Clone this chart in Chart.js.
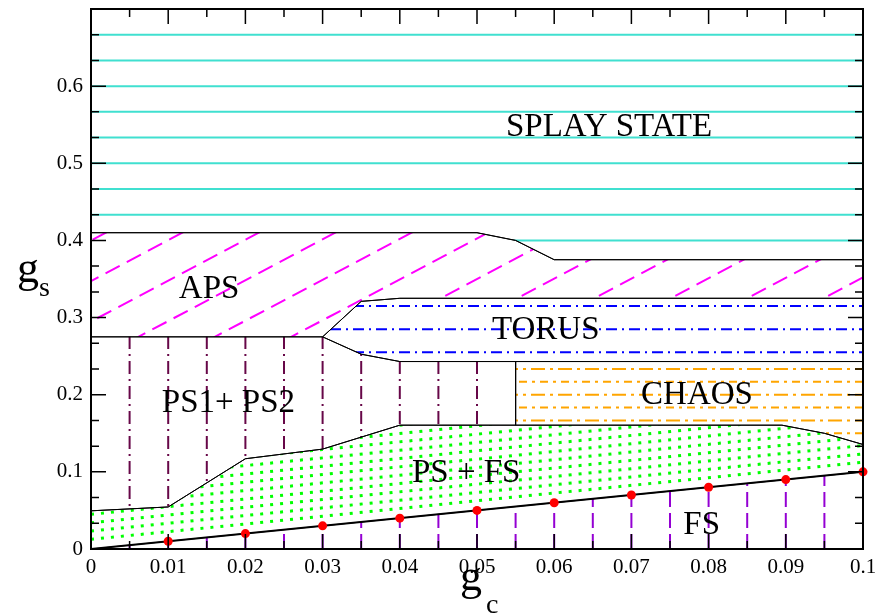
<!DOCTYPE html>
<html>
<head>
<meta charset="utf-8">
<script src="https://cdn.jsdelivr.net/npm/chart.js@4.4.1/dist/chart.umd.min.js"></script>
<style>
  html, body { margin: 0; padding: 0; background: #fff; }
  canvas { display: block; }
</style>
</head>
<body>
<canvas id="phase" width="875" height="616"></canvas>
<script>
// axis ticks
const xTickLabels = [0, 0.01, 0.02, 0.03, 0.04, 0.05, 0.06, 0.07, 0.08, 0.09, 0.1];
const xMinorTicks = [0.005, 0.015, 0.025, 0.035, 0.045, 0.055, 0.065, 0.075, 0.085, 0.095];
const yTickLabels = [0, 0.1, 0.2, 0.3, 0.4, 0.5, 0.6];
const yMajorTicks = [0, 0.1, 0.2, 0.3, 0.4, 0.5, 0.6, 0.7];
const yMinorTicks = [0.0333, 0.0667, 0.1333, 0.1667, 0.2333, 0.2667, 0.3333, 0.3667,
                     0.4333, 0.4667, 0.5333, 0.5667, 0.6333, 0.6667];

// region boundaries (closed polygons, gc / gs)
const splayX = [0, 0.05, 0.055, 0.06, 0.1, 0.1, 0, 0];
const splayY = [0.41, 0.41, 0.40, 0.375, 0.375, 0.7, 0.7, 0.41];
const apsX = [0, 0.05, 0.055, 0.06, 0.1, 0.1, 0.04, 0.035, 0.03, 0, 0];
const apsY = [0.41, 0.41, 0.40, 0.375, 0.375, 0.325, 0.325, 0.321, 0.275, 0.275, 0.41];
const torusX = [0.03, 0.035, 0.04, 0.1, 0.1, 0.04, 0.035, 0.03];
const torusY = [0.275, 0.321, 0.325, 0.325, 0.243, 0.243, 0.2525, 0.275];
const ps12X = [0, 0.03, 0.035, 0.04, 0.055, 0.055, 0.04, 0.03, 0.02, 0.01, 0, 0];
const ps12Y = [0.275, 0.275, 0.2525, 0.243, 0.243, 0.1605, 0.1605, 0.1295, 0.117, 0.0545, 0.0495, 0.275];
const chaosX = [0.055, 0.1, 0.1, 0.095, 0.0895, 0.055, 0.055];
const chaosY = [0.243, 0.243, 0.1355, 0.15, 0.1605, 0.1605, 0.243];
const psfsX = [0, 0.01, 0.02, 0.03, 0.04, 0.0895, 0.095, 0.1, 0.1, 0, 0];
const psfsY = [0.0495, 0.0545, 0.117, 0.1295, 0.1605, 0.1605, 0.15, 0.1355, 0.1, 0, 0.0495];
const fsX = [0, 0.1, 0.1, 0];
const fsY = [0, 0.1, 0, 0];

// FS boundary line and the computed points on it
const fsLineX = [0, 0.1];
const fsLineY = [0, 0.1];
const pointsX = [0.01, 0.02, 0.03, 0.04, 0.05, 0.06, 0.07, 0.08, 0.09, 0.1];
const pointsY = [0.01, 0.02, 0.03, 0.04, 0.05, 0.06, 0.07, 0.08, 0.09, 0.1];

// hatching
const splayLevels = [0.4, 0.4333, 0.4667, 0.5, 0.5333, 0.5667, 0.6, 0.6333, 0.6667];
const apsHatchLowX = [-0.0245, -0.0146, -0.0047, 0.0052, 0.0151, 0.025, 0.0349, 0.0448, 0.0548, 0.0647, 0.0746, 0.0845];
const apsHatchHighX = [0.0038, 0.0137, 0.0236, 0.0335, 0.0434, 0.0533, 0.0632, 0.0731, 0.0831, 0.093, 0.1029, 0.1128];
const apsHatchLowY = 0.27, apsHatchHighY = 0.42;
const ps12HatchX = [0.005, 0.01, 0.015, 0.02, 0.025, 0.03, 0.035, 0.04, 0.045, 0.05];
const torusLevels = [0.255, 0.285, 0.315];
const chaosLevels = [0.15, 0.1667, 0.1833, 0.2, 0.2167, 0.2333];
const psfsOffsets = [0.0125, 0.0233, 0.0341, 0.0449, 0.0557, 0.0665, 0.0773, 0.0881, 0.0989, 0.1097, 0.1205];
const fsHatchX = [0.005, 0.01, 0.015, 0.02, 0.025, 0.03, 0.035, 0.04, 0.045, 0.05,
                  0.055, 0.06, 0.065, 0.07, 0.075, 0.08, 0.085, 0.09, 0.095];

// region names
const regionNames = ['SPLAY STATE', 'APS', 'TORUS', 'PS1+ PS2', 'CHAOS', 'PS + FS', 'FS'];
const regionLabelX = [0.0671, 0.0153, 0.0589, 0.0178, 0.0785, 0.0486, 0.0791];
const regionLabelY = [0.5348, 0.3255, 0.2726, 0.1775, 0.1875, 0.0868, 0.0190];

const SERIF = '"Liberation Serif", "Times New Roman", serif';

const pts = (xs, ys) => xs.map((x, i) => ({ x: x, y: ys[i] }));
const poly = (xs, ys) => ({ xs: xs, ys: ys });

function hatch(data, color, width, dash, region) {
    return {
        data: data,
        showLine: true,
        borderColor: color,
        borderWidth: width,
        borderDash: dash,
        pointRadius: 0,
        fill: false,
        order: 3,
        clipRegion: region
    };
}

function outline(xs, ys) {
    return {
        data: pts(xs, ys),
        showLine: true,
        borderColor: '#000',
        borderWidth: 1,
        pointRadius: 0,
        fill: false,
        order: 2
    };
}

const datasets = [];

const splayRegion = poly(splayX, splayY);
splayLevels.forEach(v => datasets.push(hatch(pts([0, 0.1], [v, v]), 'rgb(64,224,208)', 2, [], splayRegion)));

const apsRegion = poly(apsX, apsY);
apsHatchLowX.forEach((x0, i) => datasets.push(hatch(
    pts([x0, apsHatchHighX[i]], [apsHatchLowY, apsHatchHighY]), '#ff00ff', 2, [16, 8], apsRegion)));

const ps12Region = poly(ps12X, ps12Y);
ps12HatchX.forEach(x => datasets.push(hatch(pts([x, x], [0, 0.3]), 'rgb(103,7,72)', 2, [13, 5, 2, 5], ps12Region)));

const torusRegion = poly(torusX, torusY);
torusLevels.forEach(v => datasets.push(hatch(pts([0.025, 0.1], [v, v]), '#0000ff', 2, [11, 5, 2, 5], torusRegion)));

const chaosRegion = poly(chaosX, chaosY);
chaosLevels.forEach((v, i) => datasets.push(hatch(pts([0.05, 0.1], [v, v]), '#ffa500', 2,
    i % 2 ? [14, 5, 3, 5] : [8, 5, 3, 5], chaosRegion)));

const psfsRegion = poly(psfsX, psfsY);
psfsOffsets.forEach(c => datasets.push(hatch(pts([0, 0.1], [c, 0.1 + c]), '#00ff00', 3, [3, 7], psfsRegion)));

const fsRegion = poly(fsX, fsY);
fsHatchX.forEach(x => datasets.push(hatch(pts([x, x], [0, 0.1]), 'rgb(148,0,211)', 2, [15, 6], fsRegion)));

[[splayX, splayY], [apsX, apsY], [torusX, torusY], [ps12X, ps12Y], [chaosX, chaosY], [psfsX, psfsY]]
    .forEach(p => datasets.push(outline(p[0], p[1])));

datasets.push({
    data: pts(fsLineX, fsLineY),
    showLine: true,
    borderColor: '#000',
    borderWidth: 2,
    pointRadius: 0,
    order: 1
});
datasets.push({
    data: pts(pointsX, pointsY),
    showLine: false,
    pointRadius: 4.5,
    pointBackgroundColor: '#ff0000',
    pointBorderColor: '#ff0000',
    pointBorderWidth: 0,
    clip: false,
    order: 0
});

// clip every hatch dataset to its region polygon
const regionClip = {
    id: 'regionClip',
    beforeDatasetDraw(chart, args) {
        const ds = chart.data.datasets[args.index];
        if (!ds.clipRegion) return;
        const { ctx, scales } = chart;
        const r = ds.clipRegion;
        ctx.save();
        ctx.beginPath();
        r.xs.forEach((v, i) => {
            const px = scales.x.getPixelForValue(v);
            const py = scales.y.getPixelForValue(r.ys[i]);
            if (i === 0) ctx.moveTo(px, py); else ctx.lineTo(px, py);
        });
        ctx.closePath();
        ctx.clip();
    },
    afterDatasetDraw(chart, args) {
        if (chart.data.datasets[args.index].clipRegion) chart.ctx.restore();
    }
};

// frame, inward ticks, region names, axis titles
const decorations = {
    id: 'decorations',
    afterDatasetsDraw(chart) {
        const { ctx, chartArea: a, scales } = chart;
        ctx.save();

        ctx.fillStyle = '#000';
        ctx.font = '33px ' + SERIF;
        ctx.textAlign = 'center';
        ctx.textBaseline = 'alphabetic';
        regionNames.forEach((name, i) => {
            ctx.fillText(name, scales.x.getPixelForValue(regionLabelX[i]), scales.y.getPixelForValue(regionLabelY[i]));
        });

        ctx.strokeStyle = '#000';
        ctx.lineWidth = 1.5;
        ctx.beginPath();
        const xt = (v, len) => {
            const px = scales.x.getPixelForValue(v);
            ctx.moveTo(px, a.bottom); ctx.lineTo(px, a.bottom - len);
            ctx.moveTo(px, a.top); ctx.lineTo(px, a.top + len);
        };
        const yt = (v, len) => {
            const py = scales.y.getPixelForValue(v);
            ctx.moveTo(a.left, py); ctx.lineTo(a.left + len, py);
            ctx.moveTo(a.right, py); ctx.lineTo(a.right - len, py);
        };
        xTickLabels.forEach(v => xt(v, 15));
        xMinorTicks.forEach(v => xt(v, 8));
        yMajorTicks.forEach(v => yt(v, 15));
        yMinorTicks.forEach(v => yt(v, 8));
        ctx.stroke();

        ctx.lineWidth = 2;
        ctx.strokeRect(a.left, a.top, a.right - a.left, a.bottom - a.top);

        ctx.textAlign = 'left';
        ctx.font = '44px ' + SERIF;
        ctx.fillText('g', 17, 282);
        ctx.fillText('g', 460, 590);
        ctx.font = '28px ' + SERIF;
        ctx.fillText('s', 39, 296);
        ctx.fillText('c', 486, 613);
        ctx.restore();
    }
};

const tickFont = { family: SERIF, size: 21 };

new Chart(document.getElementById('phase'), {
    type: 'scatter',
    data: { datasets: datasets },
    options: {
        responsive: false,
        animation: false,
        layout: { padding: { top: 9, right: 12, left: 0, bottom: 0 } },
        plugins: { legend: { display: false }, tooltip: { enabled: false } },
        scales: {
            x: {
                type: 'linear',
                min: 0,
                max: 0.1,
                grid: { display: false, drawTicks: false },
                border: { display: false },
                afterBuildTicks: s => { s.ticks = xTickLabels.map(v => ({ value: v })); },
                afterFit: s => { s.height = 67; s.paddingLeft = 0; s.paddingRight = 0; },
                ticks: { padding: 6, color: '#000', font: tickFont, autoSkip: false, maxRotation: 0, callback: v => String(v) }
            },
            y: {
                type: 'linear',
                min: 0,
                max: 0.7,
                grid: { display: false, drawTicks: false },
                border: { display: false },
                afterBuildTicks: s => { s.ticks = yTickLabels.map(v => ({ value: v })); },
                afterFit: s => { s.width = 91; s.paddingTop = 0; s.paddingBottom = 0; },
                ticks: { padding: 8, color: '#000', font: tickFont, autoSkip: false, callback: v => String(v) }
            }
        }
    },
    plugins: [regionClip, decorations]
});
</script>
</body>
</html>
